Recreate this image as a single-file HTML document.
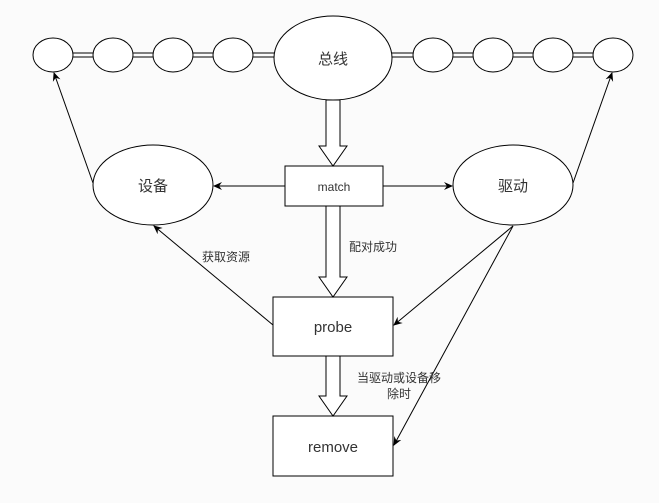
<!DOCTYPE html>
<html><head><meta charset="utf-8"><style>
html,body{margin:0;padding:0;background:#fbfbfb;}
svg text{font-family:"Liberation Sans","Noto Sans CJK SC",sans-serif;fill:#333;}
</style></head><body>
<svg width="659" height="498" viewBox="0 0 659 498" xmlns="http://www.w3.org/2000/svg">
<defs><marker id="a" markerWidth="10" markerHeight="10" refX="8" refY="5" orient="auto" markerUnits="userSpaceOnUse"><path d="M0,1 L9,5 L0,9 L3,5 Z" fill="#000"/></marker></defs>
<rect width="659" height="498" fill="#fbfbfb"/>
<g stroke="#000" stroke-width="1" fill="none">
<!-- double lines -->
<line x1="73" y1="53" x2="593" y2="53"/>
<line x1="73" y1="57" x2="593" y2="57"/>
</g>
<g stroke="#000" stroke-width="1" fill="#fff">
<ellipse cx="53" cy="55" rx="20" ry="17"/>
<ellipse cx="113" cy="55" rx="20" ry="17"/>
<ellipse cx="173" cy="55" rx="20" ry="17"/>
<ellipse cx="233" cy="55" rx="20" ry="17"/>
<ellipse cx="433" cy="55" rx="20" ry="17"/>
<ellipse cx="493" cy="55" rx="20" ry="17"/>
<ellipse cx="553" cy="55" rx="20" ry="17"/>
<ellipse cx="613" cy="55" rx="20" ry="17"/>
<ellipse cx="333" cy="58" rx="59" ry="42"/>
<ellipse cx="153" cy="185" rx="60" ry="40"/>
<ellipse cx="513" cy="185" rx="60" ry="40"/>
<rect x="285" y="166" width="98" height="40"/>
<rect x="273" y="297" width="120" height="59"/>
<rect x="273" y="416" width="120" height="60"/>
<!-- block arrows -->
<path d="M326,100 L340,100 L340,146 L347,146 L333,166 L319,146 L326,146 Z"/>
<path d="M326,206 L340,206 L340,277 L347,277 L333,297 L319,277 L326,277 Z"/>
<path d="M326,356 L340,356 L340,396 L347,396 L333,416 L319,396 L326,396 Z"/>
</g>
<g stroke="#000" stroke-width="1" fill="none">
<line x1="285" y1="186" x2="214" y2="186" marker-end="url(#a)"/>
<line x1="383" y1="186" x2="452" y2="186" marker-end="url(#a)"/>
<line x1="93" y1="183" x2="54" y2="73" marker-end="url(#a)"/>
<line x1="573" y1="183" x2="612" y2="73" marker-end="url(#a)"/>
<line x1="273" y1="325" x2="154" y2="226" marker-end="url(#a)"/>
<line x1="513" y1="226" x2="394" y2="325" marker-end="url(#a)"/>
<line x1="513" y1="226" x2="394" y2="445" marker-end="url(#a)"/>
</g>
<text x="333" y="64" font-size="15" text-anchor="middle">总线</text>
<text x="153" y="191" font-size="15" text-anchor="middle">设备</text>
<text x="513" y="191" font-size="15" text-anchor="middle">驱动</text>
<text x="334" y="191" font-size="12" text-anchor="middle">match</text>
<text x="333" y="332" font-size="15" text-anchor="middle">probe</text>
<text x="333" y="452" font-size="15" text-anchor="middle">remove</text>
<text x="349" y="251" font-size="12">配对成功</text>
<text x="202" y="261" font-size="12">获取资源</text>
<text x="399" y="382" font-size="12" text-anchor="middle">当驱动或设备移</text>
<text x="399" y="398" font-size="12" text-anchor="middle">除时</text>
</svg>
</body></html>
